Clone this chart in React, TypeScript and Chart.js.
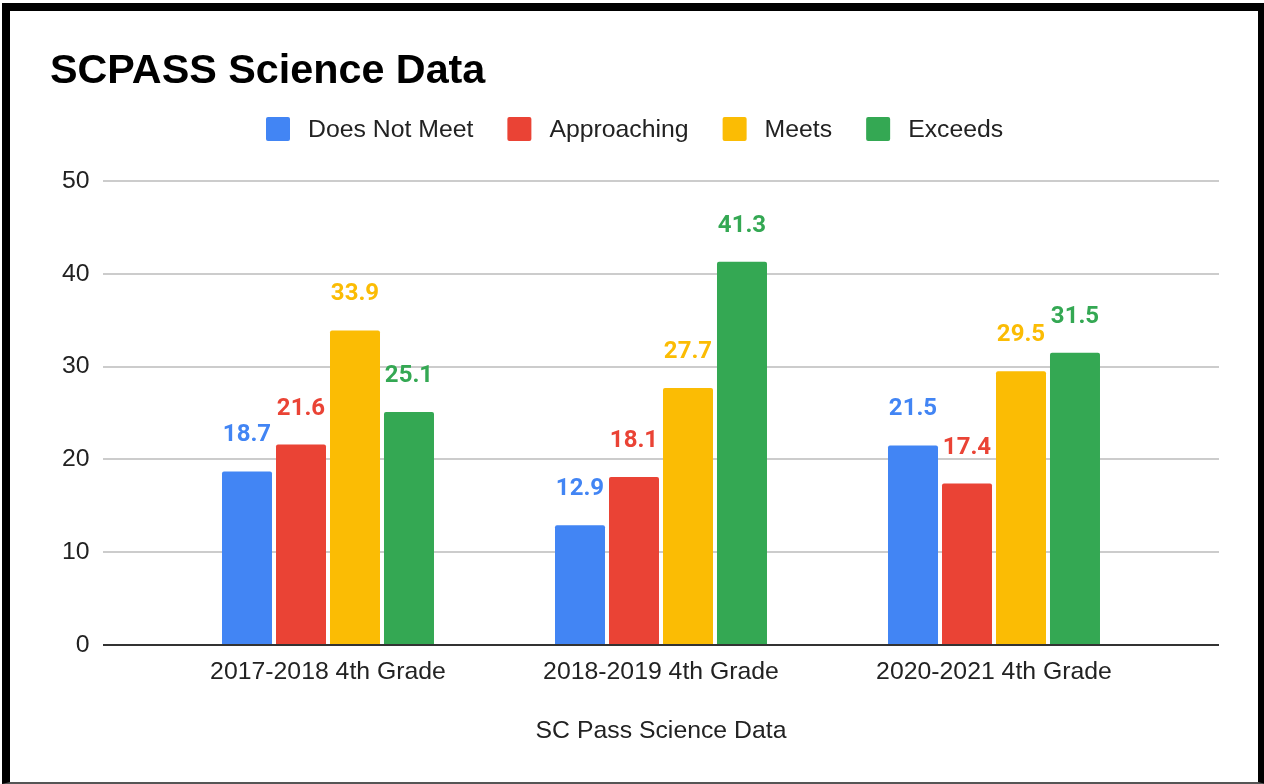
import React, { useEffect, useRef } from "react";
import { Chart, registerables } from "chart.js";

Chart.register(...registerables);

const chartTitle = "SCPASS Science Data";
const xAxisTitle = "SC Pass Science Data";
const categories = ["2017-2018 4th Grade", "2018-2019 4th Grade", "2020-2021 4th Grade"];
const seriesNames = ["Does Not Meet", "Approaching", "Meets", "Exceeds"];
const seriesColors = ["#4285F4", "#EA4335", "#FBBC04", "#34A853"];
const doesNotMeet = [18.7, 12.9, 21.5];
const approaching = [21.6, 18.1, 17.4];
const meets = [33.9, 27.7, 29.5];
const exceeds = [25.1, 41.3, 31.5];
const yMin = 0;
const yMax = 50;
const yStep = 10;

const TEXT = "#222222";
const AXIS_FONT = "'Liberation Sans', Arial, sans-serif";
const LABEL_FONT = "Roboto, 'Liberation Sans', sans-serif";
const AXIS_SIZE = 24.8;

const decorPlugin = {
  id: "decor",
  beforeDatasetsDraw(chart: any) {
    const ctx = chart.ctx;
    const y = chart.scales.y;
    const gl = 103;
    const gr = 1219;
    ctx.save();
    ctx.strokeStyle = "#cccccc";
    ctx.lineWidth = 2;
    y.ticks.forEach((t: any) => {
      if (t.value === yMin) return;
      const py = Math.round(y.getPixelForValue(t.value));
      ctx.beginPath();
      ctx.moveTo(gl, py);
      ctx.lineTo(gr, py);
      ctx.stroke();
    });
    ctx.restore();
  },
  afterDatasetsDraw(chart: any) {
    const ctx = chart.ctx;
    const y = chart.scales.y;
    const gl = 103;
    const gr = 1219;
    ctx.save();
    // baseline axis
    ctx.strokeStyle = "#333333";
    ctx.lineWidth = 2;
    const py0 = Math.round(y.getPixelForValue(yMin));
    ctx.beginPath();
    ctx.moveTo(gl, py0);
    ctx.lineTo(gr, py0);
    ctx.stroke();

    // data labels
    ctx.font = `bold 24px ${LABEL_FONT}`;
    ctx.textAlign = "center";
    ctx.textBaseline = "alphabetic";
    chart.data.datasets.forEach((ds: any, di: number) => {
      const meta = chart.getDatasetMeta(di);
      meta.data.forEach((bar: any, i: number) => {
        ctx.fillStyle = ds.backgroundColor;
        ctx.fillText(String(ds.data[i]), bar.x, bar.y - 30);
      });
    });

    // title
    ctx.fillStyle = "#000000";
    ctx.font = `bold 41.3px ${AXIS_FONT}`;
    ctx.textAlign = "left";
    ctx.fillText(chartTitle, 50, 83);

    // legend
    ctx.font = `${AXIS_SIZE}px ${AXIS_FONT}`;
    ctx.textBaseline = "middle";
    let lx = 266;
    const ly = 129;
    chart.data.datasets.forEach((ds: any) => {
      ctx.fillStyle = ds.backgroundColor;
      ctx.beginPath();
      if (ctx.roundRect) ctx.roundRect(lx, ly - 12, 24, 24, 2);
      else ctx.rect(lx, ly - 12, 24, 24);
      ctx.fill();
      ctx.fillStyle = TEXT;
      ctx.fillText(ds.label, lx + 42, ly + 1);
      lx += 42 + ctx.measureText(ds.label).width + 34;
    });

    // x axis title
    ctx.textAlign = "center";
    ctx.fillStyle = TEXT;
    ctx.fillText(xAxisTitle, (chart.chartArea.left + chart.chartArea.right) / 2, 731);
    ctx.restore();
  },
};

export default function App() {
  const ref = useRef<HTMLCanvasElement | null>(null);
  useEffect(() => {
    if (!ref.current) return;
    const seriesData = [doesNotMeet, approaching, meets, exceeds];
    const chart = new Chart(ref.current, {
      type: "bar",
      data: {
        labels: categories,
        datasets: seriesNames.map((name, i) => ({
          label: name,
          data: seriesData[i],
          backgroundColor: seriesColors[i],
          borderRadius: 2,
          borderSkipped: "start",
          categoryPercentage: 0.6486,
          barPercentage: 0.926,
        })),
      },
      options: {
        responsive: false,
        animation: false,
        devicePixelRatio: 1,
        layout: { padding: { left: 0, right: 103.5, top: 181, bottom: 79 } },
        plugins: {
          legend: { display: false },
          title: { display: false },
          tooltip: { enabled: false },
        },
        scales: {
          x: {
            grid: { display: false, drawTicks: false },
            border: { display: false },
            ticks: {
              font: { family: AXIS_FONT, size: AXIS_SIZE },
              color: TEXT,
              padding: 12,
              maxRotation: 0,
              autoSkip: false,
            },
            afterFit(scale: any) {
              scale.height = 60;
            },
          },
          y: {
            min: yMin,
            max: yMax,
            grid: { display: false, drawTicks: false },
            border: { display: false },
            ticks: {
              stepSize: yStep,
              font: { family: AXIS_FONT, size: AXIS_SIZE },
              color: TEXT,
              padding: 72,
            },
            afterFit(scale: any) {
              scale.width = 161.5;
            },
          },
        },
      },
      plugins: [decorPlugin],
    });
    return () => chart.destroy();
  }, []);

  return (
    <div
      style={{
        position: "fixed",
        left: 0,
        top: 0,
        width: 1264,
        height: 784,
        background: "#ffffff",
        overflow: "hidden",
      }}
    >
      <div
        style={{
          position: "absolute",
          left: 2,
          top: 3,
          width: 1264,
          height: 781,
          boxSizing: "border-box",
          borderTop: "8px solid #000",
          borderLeft: "8px solid #000",
          borderRight: "8px solid #000",
          borderBottom: "2px solid #555",
        }}
      />
      <canvas
        ref={ref}
        width={1264}
        height={784}
        style={{ position: "absolute", left: 0, top: 0, width: 1264, height: 784 }}
      />
    </div>
  );
}
